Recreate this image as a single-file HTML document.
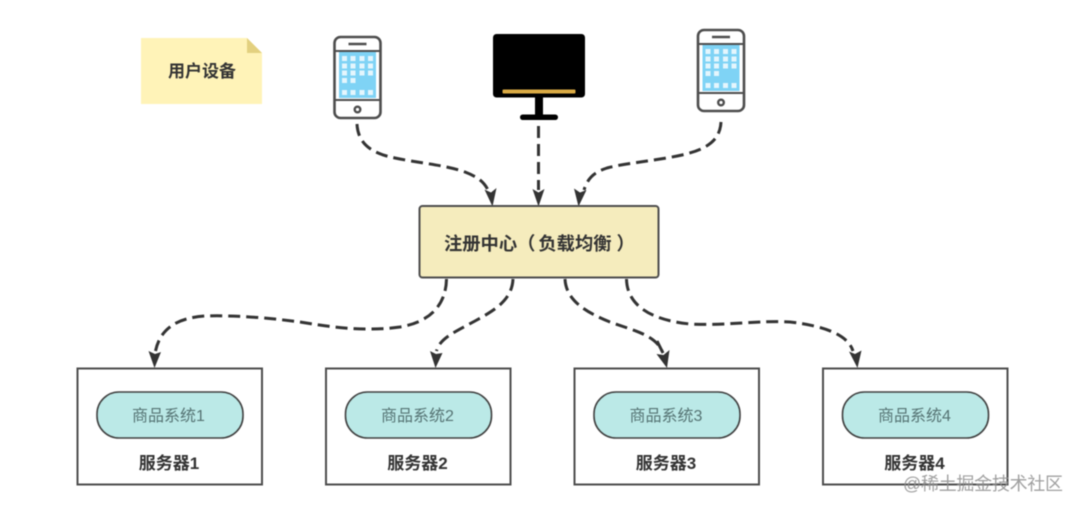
<!DOCTYPE html>
<html><head><meta charset="utf-8">
<style>
html,body{margin:0;padding:0;background:#fff}
svg{display:block;filter:blur(0.4px)}
text{font-family:"Liberation Sans","Noto Sans CJK SC",sans-serif}
</style></head>
<body>
<svg width="1080" height="510" viewBox="0 0 1080 510" xmlns="http://www.w3.org/2000/svg">
<defs>
<g id="phone">
  <rect x="1" y="1" width="46" height="81" rx="6" fill="#fff" stroke="#4d4d4d" stroke-width="2.6"/>
  <rect x="5.500" y="16" width="37" height="46" fill="#7fd3f5"/>
  <line x1="1" y1="15" x2="47" y2="15" stroke="#4d4d4d" stroke-width="2"/>
  <line x1="1" y1="64" x2="47" y2="64" stroke="#4d4d4d" stroke-width="2"/>
  <line x1="15" y1="8" x2="33" y2="8" stroke="#4d4d4d" stroke-width="2.600"/>
  <circle cx="24" cy="73.500" r="2.800" fill="#fff" stroke="#4d4d4d" stroke-width="2.400"/>
  <g fill="#e4f6fd">
    <rect x="8.500" y="20" width="5" height="5"/><rect x="17" y="20" width="5" height="5"/><rect x="26" y="20" width="5" height="5"/><rect x="34.500" y="20" width="5" height="5"/>
    <rect x="8.500" y="27.500" width="5" height="5"/><rect x="17" y="27.500" width="5" height="5"/><rect x="26" y="27.500" width="5" height="5"/><rect x="34.500" y="27.500" width="5" height="5"/>
    <rect x="8.500" y="34.500" width="5" height="5"/><rect x="17" y="34.500" width="5" height="5"/><rect x="26" y="34.500" width="5" height="5"/><rect x="34.500" y="34.500" width="5" height="5"/>
    <rect x="8.500" y="42" width="5" height="5"/><rect x="17" y="42" width="5" height="5"/>
    <rect x="8.500" y="54" width="5" height="5"/><rect x="17" y="54" width="5" height="5"/><rect x="26" y="54" width="5" height="5"/><rect x="34.500" y="54" width="5" height="5"/>
  </g>
</g>
</defs>

<!-- note -->
<polygon points="141,38 247,38 262,53 262,104 141,104" fill="#fff3b8"/>
<polygon points="247,38 262,53 247,53" fill="#e3d07f"/>
<text x="202" y="77" font-size="17" font-weight="700" fill="#333" text-anchor="middle">用户设备</text>

<!-- devices -->
<use href="#phone" x="333.500" y="36"/>
<use href="#phone" x="697" y="29"/>

<rect x="493" y="34" width="92" height="63.500" rx="3.500" fill="#000"/>
<rect x="502.500" y="89.500" width="73" height="4" rx="1" fill="#dbab45"/>
<rect x="535" y="97" width="8" height="19" fill="#000"/>
<rect x="520" y="114.500" width="38" height="5.500" rx="2.700" fill="#000"/>

<!-- top connectors -->
<g fill="none" stroke="#333" stroke-width="3" stroke-dasharray="12 6">
  <path d="M357 124 C358 146 375 154 395 158 C425 164 445 165 465 172 C478 177 484 182 488 190"/>
  <path d="M538.500 126 L538.500 190"/>
  <path d="M721 122 C720 140 708 149 682 155 C655 161 625 163 607 168 C595 172 588 177 584 190"/>
</g>
<g fill="#333">
  <polygon points="492.500,206.500 484.500,189.500 491,192.500 496.500,188"/>
  <polygon points="538.500,206.500 532.500,189 538.500,192.500 544.500,189"/>
  <polygon points="578.500,206.500 574,188.500 580,192.500 586.500,190"/>
</g>

<!-- register center -->
<rect x="419.500" y="206" width="239" height="71.500" rx="3" fill="#f5ecbd" stroke="#4d4d4d" stroke-width="2"/>
<text x="444" y="250" font-size="18.300" font-weight="700" fill="#333">注册中心（<tspan dx="3">负载均衡</tspan><tspan dx="5">）</tspan></text>

<!-- bottom connectors -->
<g fill="none" stroke="#333" stroke-width="3" stroke-dasharray="12 6">
  <path d="M446.500 279 C446 305 430 322 400 327 C365 332 330 327 300 322 C270 318 235 315 205 316 C175 318 160 330 155.500 351"/>
  <path d="M513 279 C512 300 495 310 475 321 C455 332 440 338 436.500 351"/>
  <path d="M565 279 C566 300 585 312 610 322 C635 331 655 335 662 351"/>
  <path d="M626.500 279 C627 305 650 320 690 324 C725 326 760 320 790 322 C825 326 848 335 853 351"/>
</g>
<line x1="657" y1="341" x2="663" y2="353" stroke="#333" stroke-width="3"/>
<g fill="#333">
  <polygon points="154.500,368 148.500,351 155,354 161,352"/>
  <polygon points="435.500,368 430,351 436,354 442.500,353"/>
  <polygon points="667,368 656.500,354 663.500,355 669.500,350"/>
  <polygon points="857.500,368 849,351.500 855,354 861.500,350.500"/>
</g>

<!-- servers -->
<g fill="#fff" stroke="#4d4d4d" stroke-width="2">
  <rect x="77.500" y="368.500" width="184.500" height="116"/>
  <rect x="326" y="368.500" width="184.500" height="116"/>
  <rect x="574.500" y="368.500" width="184.500" height="116"/>
  <rect x="823" y="368.500" width="184.500" height="116"/>
</g>
<g fill="#bbe9e7" stroke="#404040" stroke-width="1.600">
  <rect x="97" y="392" width="146" height="46" rx="22"/>
  <rect x="345.500" y="392" width="146" height="46" rx="22"/>
  <rect x="594" y="392" width="146" height="46" rx="22"/>
  <rect x="842.500" y="392" width="146" height="46" rx="22"/>
</g>
<g font-size="16" fill="#557373" text-anchor="middle">
  <text x="168.500" y="421">商品系统1</text>
  <text x="417.500" y="421">商品系统2</text>
  <text x="666" y="421">商品系统3</text>
  <text x="914.500" y="421">商品系统4</text>
</g>
<g font-size="17" font-weight="700" fill="#333" text-anchor="middle">
  <text x="169" y="469">服务器1</text>
  <text x="417.500" y="469">服务器2</text>
  <text x="666" y="469">服务器3</text>
  <text x="914.500" y="469">服务器4</text>
</g>

<!-- watermark -->
<text x="903" y="490" font-size="18" fill="#8f8f8f" fill-opacity="0.85" textLength="160" lengthAdjust="spacing">@稀土掘金技术社区</text>
</svg>
</body></html>
